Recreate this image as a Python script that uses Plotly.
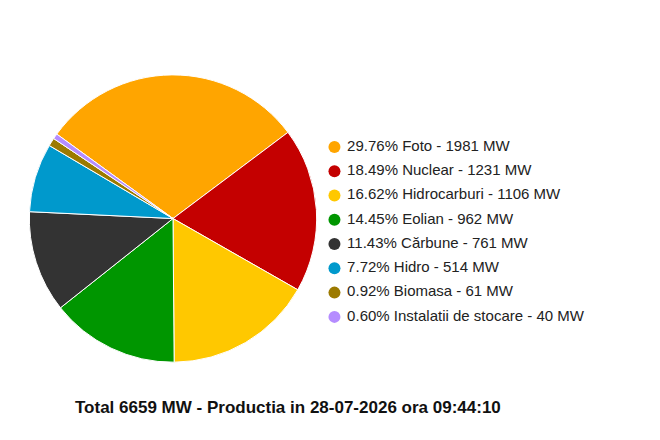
import plotly.graph_objects as go

labels = ["Foto", "Nuclear", "Hidrocarburi", "Eolian", "Cărbune", "Hidro", "Biomasa", "Instalatii de stocare"]
values = [1981, 1231, 1106, 962, 761, 514, 61, 40]
pcts = ["29.76%", "18.49%", "16.62%", "14.45%", "11.43%", "7.72%", "0.92%", "0.60%"]
colors = ["#FFA500", "#C40000", "#FFC800", "#009600", "#333333", "#0099CC", "#9C7A00", "#B58CFF"]
title = "Total 6659 MW - Productia in 28-07-2026 ora 09:44:10"

fig = go.Figure()
fig.add_trace(go.Pie(labels=labels, values=values, sort=False, direction="clockwise",
                     rotation=-54, textinfo="none", hoverinfo="label+value+percent",
                     marker=dict(colors=colors, line=dict(color="white", width=1)),
                     domain=dict(x=[0.03, 0.47], y=[0.195, 0.848]), showlegend=False))
fig.add_trace(go.Scatter(x=[0.03]*len(labels), y=list(range(len(labels))), mode="markers+text",
                         marker=dict(size=12, color=colors),
                         text=[f" {p} {l} - {v} MW" for p, l, v in zip(pcts, labels, values)],
                         textposition="middle right", textfont=dict(size=15, color="#222"),
                         showlegend=False, hoverinfo="skip", cliponaxis=False))
fig.update_layout(width=660, height=440, margin=dict(l=0, r=0, t=0, b=0),
                  paper_bgcolor="white", plot_bgcolor="white",
                  font=dict(family="Liberation Sans, Arial"),
                  xaxis=dict(domain=[0.479, 1], range=[0, 1], visible=False),
                  yaxis=dict(domain=[0.298, 0.684], range=[7, 0], visible=False),
                  annotations=[dict(text="<b>" + title + "</b>", x=280/660, y=1-411/440,
                                    xref="paper", yref="paper", showarrow=False,
                                    font=dict(size=17, color="#111"))])
fig.write_html("out.html")
